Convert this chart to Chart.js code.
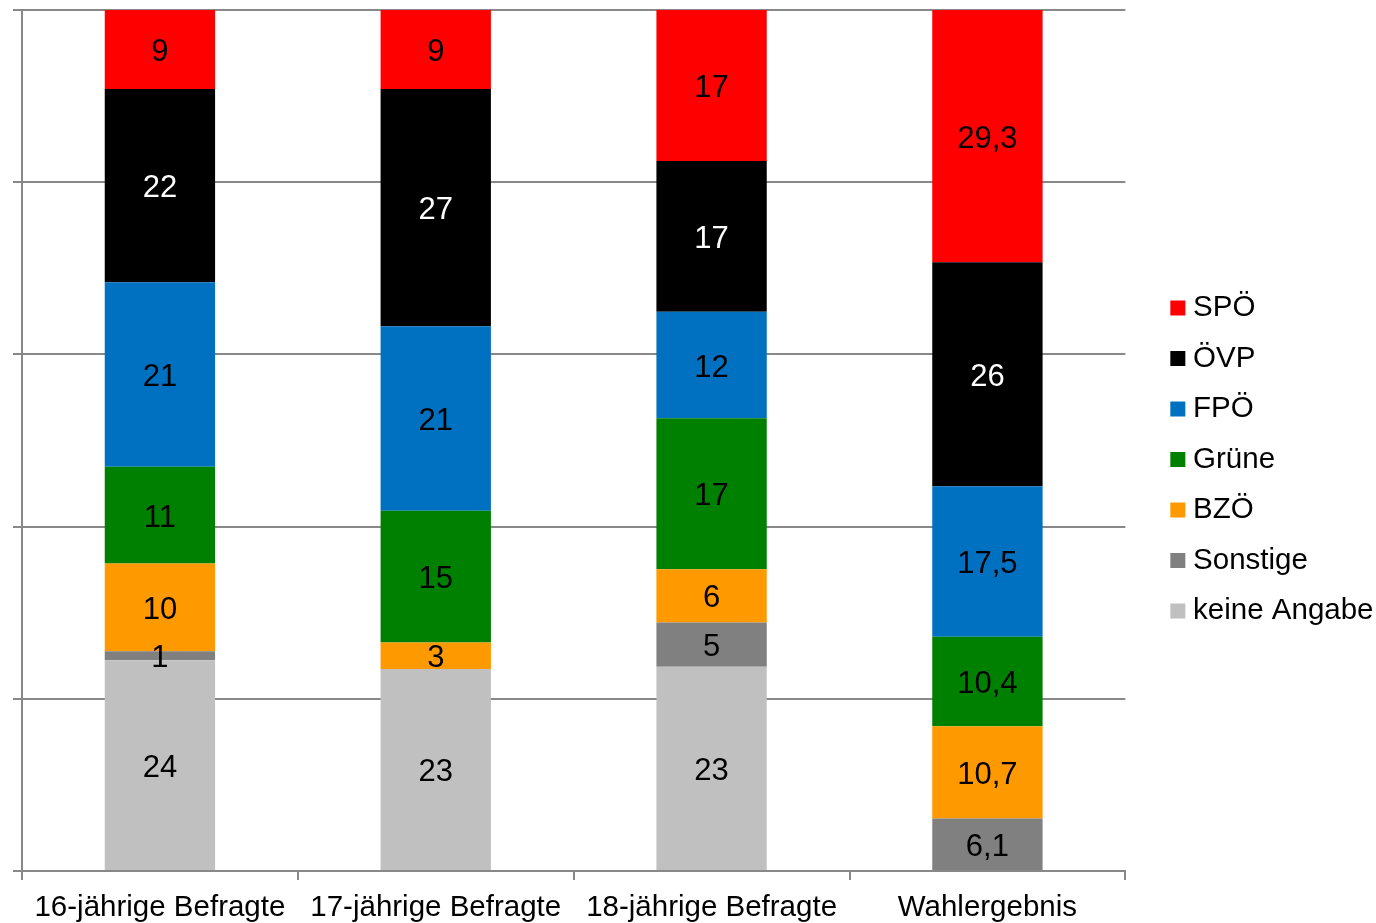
<!DOCTYPE html>
<html>
<head>
<meta charset="utf-8">
<script src="https://cdn.jsdelivr.net/npm/chart.js@4"></script>
<style>
  html, body { margin: 0; padding: 0; background: #ffffff; }
  #wrap { width: 1376px; height: 923px; }
</style>
</head>
<body>
<div id="wrap"><canvas id="c" width="1376" height="923"></canvas></div>
<script>
const categories = ['16-jährige Befragte', '17-jährige Befragte', '18-jährige Befragte', 'Wahlergebnis'];
const keineAngabe = [24, 23, 23, 0];
const sonstige = [1, 0, 5, 6.1];
const bzoe = [10, 3, 6, 10.7];
const gruene = [11, 15, 17, 10.4];
const fpoe = [21, 21, 12, 17.5];
const oevp = [22, 27, 17, 26];
const spoe = [9, 9, 17, 29.3];
const yTicks = [0, 20, 40, 60, 80, 100];

const series = [
  { label: 'keine Angabe', values: keineAngabe, color: '#C0C0C0', text: '#000000' },
  { label: 'Sonstige', values: sonstige, color: '#808080', text: '#000000' },
  { label: 'BZÖ', values: bzoe, color: '#FF9900', text: '#000000' },
  { label: 'Grüne', values: gruene, color: '#008000', text: '#000000' },
  { label: 'FPÖ', values: fpoe, color: '#0070C0', text: '#000000' },
  { label: 'ÖVP', values: oevp, color: '#000000', text: '#FFFFFF' },
  { label: 'SPÖ', values: spoe, color: '#FF0000', text: '#000000' }
];

// 100% stacked: share of each category total
const totals = categories.map((_, i) => series.reduce((s, d) => s + d.values[i], 0));

const FONT = "'Liberation Sans', Arial, Helvetica, sans-serif";
const GRID = '#888888';

const dataLabels = {
  id: 'dataLabels',
  afterDatasetsDraw(chart) {
    const ctx = chart.ctx;
    ctx.save();
    ctx.font = '31px ' + FONT;
    ctx.textAlign = 'center';
    ctx.textBaseline = 'middle';
    chart.data.datasets.forEach((ds, di) => {
      const meta = chart.getDatasetMeta(di);
      meta.data.forEach((el, i) => {
        const raw = ds.rawValues[i];
        if (!raw) return;
        ctx.fillStyle = ds.textColor;
        ctx.fillText(String(raw).replace('.', ','), el.x, (el.y + el.base) / 2 + 3);
      });
    });
    ctx.restore();
  }
};

// nudge the legend box to the reference position
const legendNudge = {
  id: 'legendNudge',
  afterLayout(chart) {
    const lg = chart.legend;
    if (!lg) return;
    const dx = 10, dy = -7;
    lg.left += dx; lg.right += dx;
    lg.top += dy; lg.bottom += dy;
  }
};

new Chart(document.getElementById('c'), {
  type: 'bar',
  data: {
    labels: categories,
    datasets: series.map(s => ({
      label: s.label,
      data: s.values.map((v, i) => v / totals[i] * 100),
      rawValues: s.values,
      textColor: s.text,
      backgroundColor: s.color,
      borderWidth: 0,
      categoryPercentage: 1,
      barPercentage: 0.4
    }))
  },
  options: {
    responsive: false,
    animation: false,
    devicePixelRatio: 1,
    layout: { padding: { left: 13, top: 10, right: 3, bottom: 0 } },
    plugins: {
      legend: {
        position: 'right',
        reverse: true,
        align: 'center',
        labels: {
          usePointStyle: true,
          pointStyle: 'rect',
          boxWidth: 1,
          boxHeight: 15,
          padding: 21,
          color: '#000000',
          font: { family: FONT, size: 29.5 }
        }
      },
      tooltip: { enabled: false }
    },
    scales: {
      x: {
        stacked: true,
        grid: { display: true, drawOnChartArea: false, drawTicks: true, tickLength: 9, color: GRID, lineWidth: 2, offset: true },
        border: { display: true, color: GRID, width: 2 },
        ticks: { color: '#000000', padding: 10, font: { family: FONT, size: 29.5 }, maxRotation: 0, autoSkip: false },
        afterFit(scale) { scale.height = 52; }
      },
      y: {
        stacked: true,
        min: 0,
        max: 100,
        afterBuildTicks(scale) { scale.ticks = yTicks.map(v => ({ value: v })); },
        grid: { color: GRID, lineWidth: 2, drawTicks: true, tickLength: 9 },
        border: { display: true, color: GRID, width: 2 },
        ticks: { display: false }
      },
      y2: {
        position: 'right',
        display: true,
        grid: { display: false, drawTicks: false },
        border: { display: false },
        ticks: { display: false },
        afterFit(scale) { scale.width = 21; }
      }
    }
  },
  plugins: [dataLabels, legendNudge]
});
</script>
</body>
</html>
